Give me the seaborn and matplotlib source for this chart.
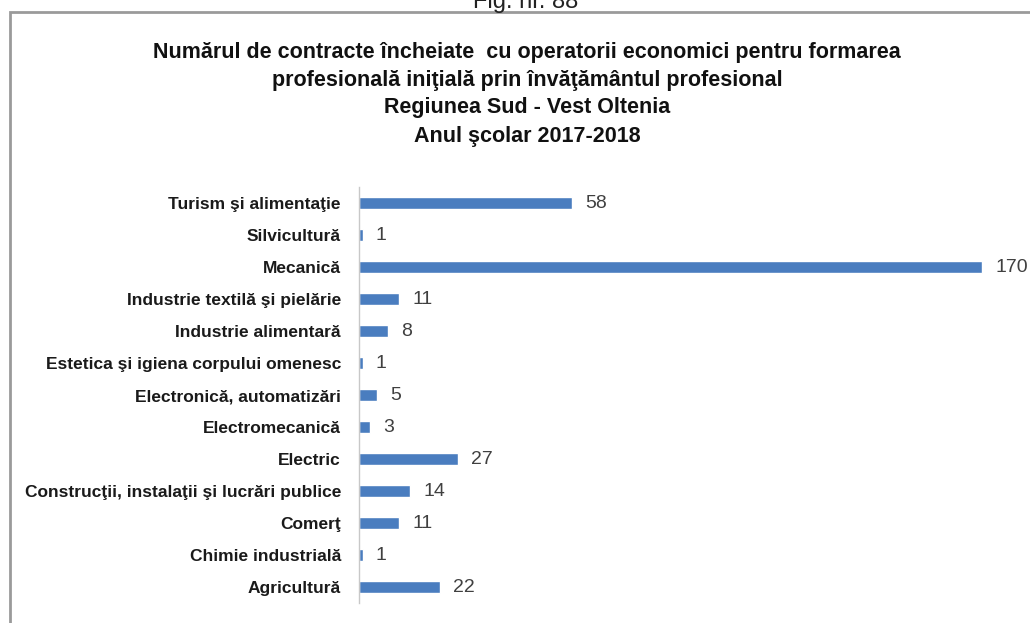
import matplotlib
matplotlib.use('Agg')
import matplotlib.pyplot as plt
import matplotlib.patches as mpatches
import seaborn as sns
import pandas as pd

categories = [
    'Turism şi alimentaţie',
    'Silvicultură',
    'Mecanică',
    'Industrie textilă şi pielărie',
    'Industrie alimentară',
    'Estetica şi igiena corpului omenesc',
    'Electronică, automatizări',
    'Electromecanică',
    'Electric',
    'Construcţii, instalaţii şi lucrări publice',
    'Comerţ',
    'Chimie industrială',
    'Agricultură',
]
contracts = [58, 1, 170, 11, 8, 1, 5, 3, 27, 14, 11, 1, 22]

title_lines = [
    'Numărul de contracte încheiate  cu operatorii economici pentru formarea',
    'profesională iniţială prin învăţământul profesional',
    'Regiunea Sud - Vest Oltenia',
    'Anul şcolar 2017-2018',
]

df = pd.DataFrame({'domeniu': categories, 'contracte': contracts})

sns.set_style('white')
plt.rcParams['font.family'] = ['Liberation Sans', 'DejaVu Sans']

fig = plt.figure(figsize=(10.3, 6.23), dpi=100)
ax = fig.add_axes([359 / 1030, 1 - 603 / 623, (1025 - 359) / 1030, (603 - 187) / 623])

sns.barplot(data=df, x='contracte', y='domeniu', color='#4a7dbf',
            width=0.35, saturation=1, ax=ax)

ax.set_xlim(0, (1025 - 359) / ((984 - 361) / 170))
ax.set_xlabel('')
ax.set_ylabel('')
ax.set_xticks([])
ax.tick_params(axis='y', length=0, pad=13, labelsize=12.5)
for lab in ax.get_yticklabels():
    lab.set_fontweight('bold')
    lab.set_color('#1a1a1a')
for side in ['top', 'right', 'bottom']:
    ax.spines[side].set_visible(False)
ax.spines['left'].set_color('#c8c8c8')
ax.spines['left'].set_linewidth(1.0)

for i, v in enumerate(contracts):
    ax.text(v + 3.6, i, str(v), va='center', ha='left', fontsize=14,
            color='#404040')

# title
baselines = [58, 86, 113, 142]
for line, y in zip(title_lines, baselines):
    fig.text(527 / 1030, 1 - y / 623, line, ha='center', va='baseline',
             fontsize=15.5, fontweight='bold', color='#111111')

# caption cut by the top edge, as in the source page
fig.text(526 / 1030, 1 - 8 / 623, 'Fig. nr. 88', ha='center', va='baseline',
         fontsize=17, color='#222222')

# frame around chart
frame = mpatches.Rectangle((10 / 1030, -0.1), 1.2, 1 - 12 / 623 + 0.1,
                           transform=fig.transFigure, fill=False,
                           edgecolor='#9a9a9a', linewidth=2.0)
fig.patches.append(frame)

fig.savefig('out.png', dpi=100)
